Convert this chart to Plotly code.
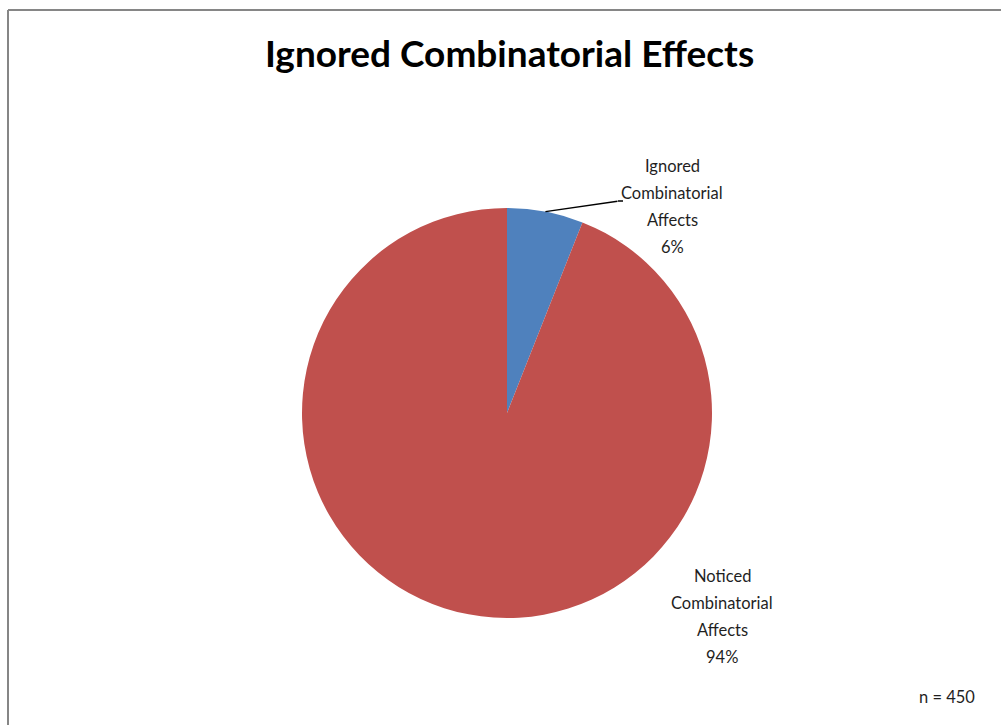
import plotly.graph_objects as go
import math

# Survey results (n = 450)
categories = ["Ignored Combinatorial Affects", "Noticed Combinatorial Affects"]
counts = [27, 423]
colors = ["#4F81BD", "#C0504D"]
title_text = "Ignored Combinatorial Effects"
note_text = "n = 450"

W, H = 1001, 725
cx, cy, r = 507, 413, 205  # pie centre and radius in pixels

total = sum(counts)
shares = [c / total for c in counts]

fig = go.Figure(
    go.Pie(
        labels=categories,
        values=counts,
        marker=dict(colors=colors, line=dict(width=0)),
        sort=False,
        direction="clockwise",
        rotation=0,
        textinfo="none",
        hoverinfo="label+percent",
        showlegend=False,
        domain=dict(x=[(cx - r) / W, (cx + r) / W], y=[1 - (cy + r) / H, 1 - (cy - r) / H]),
    )
)

label_font = dict(family="Lato, Open Sans, sans-serif", size=16.5, color="#1f1f1f")
line_gap = 27  # pixel spacing between label lines


def label_lines(name, share):
    return name.split(" ") + [f"{round(share * 100)}%"]


def add_label(lines, x_px, y_first_px):
    for i, line in enumerate(lines):
        fig.add_annotation(
            x=x_px / W, y=1 - (y_first_px + i * line_gap) / H,
            xref="paper", yref="paper", text=line, showarrow=False,
            font=label_font, xanchor="center", yanchor="middle",
        )


# Ignored slice label, with a leader line to the slice edge
mid0 = shares[0] * math.pi
edge_x = cx + r * math.sin(mid0)
edge_y = cy - r * math.cos(mid0)
fig.add_annotation(
    x=edge_x / W, y=1 - edge_y / H, xref="paper", yref="paper",
    text="", showarrow=True, arrowhead=0, arrowwidth=1.5, arrowcolor="#000000",
    ax=619 - edge_x, ay=201 - edge_y, axref="pixel", ayref="pixel",
)
fig.add_shape(type="line", xref="paper", yref="paper",
              x0=618 / W, x1=623 / W, y0=1 - 201 / H, y1=1 - 201 / H,
              line=dict(color="#000000", width=1.5))
add_label(label_lines(categories[0], shares[0]), 672, 166)
# Noticed slice label
add_label(label_lines(categories[1], shares[1]), 722, 576)

# Sample size note
fig.add_annotation(
    x=947 / W, y=1 - 697 / H, xref="paper", yref="paper",
    text=note_text, showarrow=False, font=label_font,
    xanchor="center", yanchor="middle",
)
# Title
fig.add_annotation(
    x=510 / W, y=1 - 52 / H, xref="paper", yref="paper",
    text=f"<b>{title_text}</b>", showarrow=False,
    font=dict(family="Lato, Open Sans, sans-serif", size=37, color="#000000"),
    xanchor="center", yanchor="middle",
)

# Chart frame (left and top edges visible)
frame = dict(color="#868686", width=2)
fig.add_shape(type="line", xref="paper", yref="paper",
              x0=8 / W, x1=8 / W, y0=-0.05, y1=1 - 10 / H, line=frame)
fig.add_shape(type="line", xref="paper", yref="paper",
              x0=8 / W, x1=1.05, y0=1 - 10 / H, y1=1 - 10 / H, line=frame)

fig.update_layout(
    width=W, height=H,
    margin=dict(l=0, r=0, t=0, b=0),
    paper_bgcolor="white", plot_bgcolor="white",
)

fig.write_html("out.html")
